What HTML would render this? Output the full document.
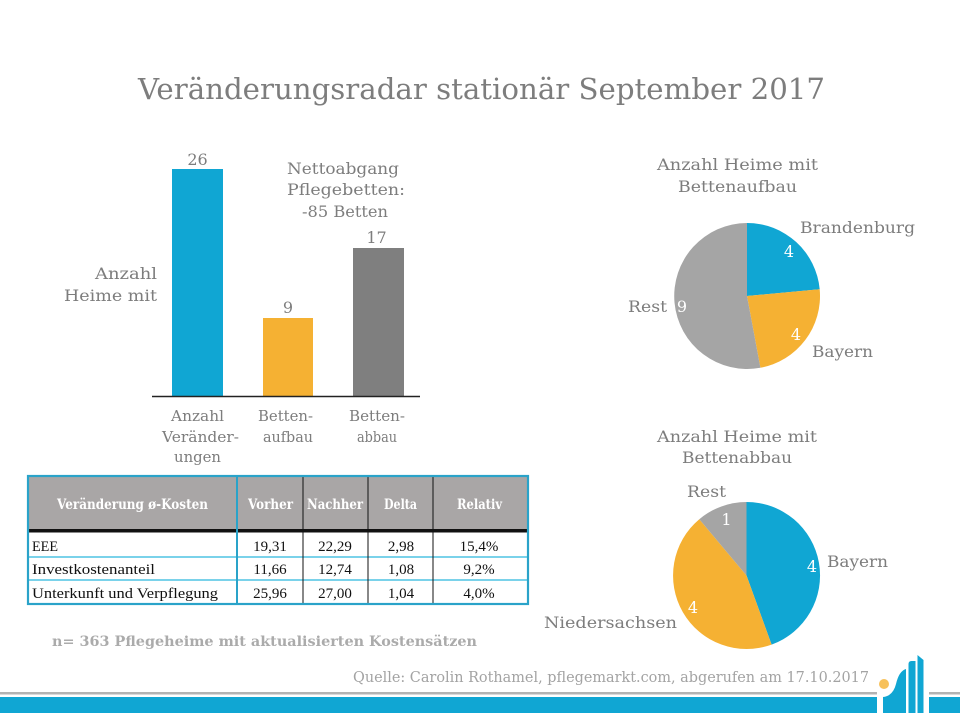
<!DOCTYPE html>
<html><head><meta charset="utf-8"><style>
html,body{margin:0;padding:0;background:#fff;}
svg{display:block;}
.s{font-family:"DejaVu Serif","Liberation Serif",serif;}
.t{font-family:"Liberation Serif","DejaVu Serif",serif;}
</style></head><body>
<svg width="960" height="720" viewBox="0 0 960 720" xmlns="http://www.w3.org/2000/svg">
<rect width="960" height="720" fill="#fff"/>
<!-- Title -->
<text class="s" x="138" y="99" font-size="29" fill="#7d7d7d" textLength="687" lengthAdjust="spacingAndGlyphs">Veränderungsradar stationär September 2017</text>

<!-- Bar chart -->
<rect x="172" y="169" width="51" height="227" fill="#10a6d3"/>
<rect x="263" y="318" width="50" height="78" fill="#f5b133"/>
<rect x="353" y="248" width="51" height="148" fill="#7f7f7f"/>
<line x1="152" y1="396.5" x2="420" y2="396.5" stroke="#222" stroke-width="1.5"/>
<g class="s" fill="#7d7d7d" font-size="16">
<text x="197.5" y="165" text-anchor="middle">26</text>
<text x="288" y="313" text-anchor="middle">9</text>
<text x="376.5" y="243" text-anchor="middle">17</text>
<text x="287" y="174" textLength="112" lengthAdjust="spacingAndGlyphs">Nettoabgang</text>
<text x="287" y="195" textLength="118" lengthAdjust="spacingAndGlyphs">Pflegebetten:</text>
<text x="302" y="217" textLength="86" lengthAdjust="spacingAndGlyphs">-85 Betten</text>
<text x="95" y="279" textLength="62" lengthAdjust="spacingAndGlyphs">Anzahl</text>
<text x="64" y="301" textLength="93" lengthAdjust="spacingAndGlyphs">Heime mit</text>
</g>
<g class="s" fill="#7d7d7d" font-size="15">
<text x="171" y="421" textLength="53" lengthAdjust="spacingAndGlyphs">Anzahl</text>
<text x="162" y="442" textLength="77" lengthAdjust="spacingAndGlyphs">Veränder-</text>
<text x="174" y="462" textLength="47" lengthAdjust="spacingAndGlyphs">ungen</text>
<text x="258" y="421" textLength="55" lengthAdjust="spacingAndGlyphs">Betten-</text>
<text x="263" y="442" textLength="50" lengthAdjust="spacingAndGlyphs">aufbau</text>
<text x="349" y="421" textLength="56" lengthAdjust="spacingAndGlyphs">Betten-</text>
<text x="357" y="442" textLength="40" lengthAdjust="spacingAndGlyphs">abbau</text>
</g>

<!-- Pie 1 -->
<g class="s" fill="#7d7d7d" font-size="16">
<text x="657" y="170" textLength="161" lengthAdjust="spacingAndGlyphs">Anzahl Heime mit</text>
<text x="678" y="192" textLength="119" lengthAdjust="spacingAndGlyphs">Bettenaufbau</text>
</g>
<path d="M747,296 L747,223 A73,73 0 0 1 819.7,289.3 Z" fill="#10a6d3"/>
<path d="M747,296 L819.7,289.3 A73,73 0 0 1 760.4,367.8 Z" fill="#f5b133"/>
<path d="M747,296 L760.4,367.8 A73,73 0 1 1 747,223 Z" fill="#a5a5a5"/>
<g class="s" font-size="16">
<text x="800" y="233" fill="#7d7d7d" textLength="115" lengthAdjust="spacingAndGlyphs">Brandenburg</text>
<text x="812" y="357" fill="#7d7d7d" textLength="61" lengthAdjust="spacingAndGlyphs">Bayern</text>
<text x="628" y="312" fill="#7d7d7d" textLength="39" lengthAdjust="spacingAndGlyphs">Rest</text>
<text x="789" y="257" fill="#fff" text-anchor="middle">4</text>
<text x="796" y="340" fill="#fff" text-anchor="middle">4</text>
<text x="682" y="312" fill="#fff" text-anchor="middle">9</text>
</g>

<!-- Pie 2 -->
<g class="s" fill="#7d7d7d" font-size="16">
<text x="657" y="442" textLength="160" lengthAdjust="spacingAndGlyphs">Anzahl Heime mit</text>
<text x="682" y="463" textLength="110" lengthAdjust="spacingAndGlyphs">Bettenabbau</text>
</g>
<path d="M746.5,575.5 L746.5,502 A73.5,73.5 0 0 1 771.6,644.6 Z" fill="#10a6d3"/>
<path d="M746.5,575.5 L771.6,644.6 A73.5,73.5 0 0 1 699.3,519.2 Z" fill="#f5b133"/>
<path d="M746.5,575.5 L699.3,519.2 A73.5,73.5 0 0 1 746.5,502 Z" fill="#a5a5a5"/>
<g class="s" font-size="16">
<text x="687" y="497" fill="#7d7d7d" textLength="39" lengthAdjust="spacingAndGlyphs">Rest</text>
<text x="827" y="567" fill="#7d7d7d" textLength="61" lengthAdjust="spacingAndGlyphs">Bayern</text>
<text x="544" y="628" fill="#7d7d7d" textLength="133" lengthAdjust="spacingAndGlyphs">Niedersachsen</text>
<text x="726.5" y="525" fill="#fff" text-anchor="middle">1</text>
<text x="812" y="572" fill="#fff" text-anchor="middle">4</text>
<text x="693" y="613" fill="#fff" text-anchor="middle">4</text>
</g>

<!-- Table -->
<rect x="28" y="476" width="500" height="55" fill="#a9a6a6"/>
<rect x="28" y="529" width="500" height="3.5" fill="#111"/>
<line x1="28" y1="557" x2="528" y2="557" stroke="#4fc3e4" stroke-width="1.5"/>
<line x1="28" y1="580" x2="528" y2="580" stroke="#4fc3e4" stroke-width="1.5"/>
<line x1="303" y1="476" x2="303" y2="604" stroke="#111" stroke-width="1"/>
<line x1="368" y1="476" x2="368" y2="604" stroke="#111" stroke-width="1"/>
<line x1="433" y1="476" x2="433" y2="604" stroke="#111" stroke-width="1"/>
<line x1="237" y1="476" x2="237" y2="604" stroke="#2aa3c9" stroke-width="2"/>
<rect x="28" y="476" width="500" height="128" fill="none" stroke="#2aa3c9" stroke-width="2.2"/>
<g class="s" fill="#fff" font-size="13.5" font-weight="bold">
<text x="57" y="509" textLength="151" lengthAdjust="spacingAndGlyphs">Veränderung ø-Kosten</text>
<text x="248" y="509" textLength="45" lengthAdjust="spacingAndGlyphs">Vorher</text>
<text x="307" y="509" textLength="56" lengthAdjust="spacingAndGlyphs">Nachher</text>
<text x="384" y="509" textLength="33" lengthAdjust="spacingAndGlyphs">Delta</text>
<text x="457" y="509" textLength="45" lengthAdjust="spacingAndGlyphs">Relativ</text>
</g>
<g class="t" fill="#111" font-size="15">
<text x="32" y="551" textLength="26" lengthAdjust="spacingAndGlyphs">EEE</text>
<text x="32" y="574" textLength="123" lengthAdjust="spacingAndGlyphs">Investkostenanteil</text>
<text x="32" y="598" textLength="186" lengthAdjust="spacingAndGlyphs">Unterkunft und Verpflegung</text>
<text x="270" y="551" text-anchor="middle">19,31</text>
<text x="335" y="551" text-anchor="middle">22,29</text>
<text x="401" y="551" text-anchor="middle">2,98</text>
<text x="479" y="551" text-anchor="middle">15,4%</text>
<text x="270" y="574" text-anchor="middle">11,66</text>
<text x="335" y="574" text-anchor="middle">12,74</text>
<text x="401" y="574" text-anchor="middle">1,08</text>
<text x="479" y="574" text-anchor="middle">9,2%</text>
<text x="270" y="598" text-anchor="middle">25,96</text>
<text x="335" y="598" text-anchor="middle">27,00</text>
<text x="401" y="598" text-anchor="middle">1,04</text>
<text x="479" y="598" text-anchor="middle">4,0%</text>
</g>
<text class="s" x="52" y="646" font-size="14" font-weight="bold" fill="#ababab" textLength="425" lengthAdjust="spacingAndGlyphs">n= 363 Pflegeheime mit aktualisierten  Kostensätzen</text>

<!-- Source -->
<text class="s" x="353" y="682" font-size="15" fill="#a3a3a3" textLength="516" lengthAdjust="spacingAndGlyphs">Quelle: Carolin Rothamel, pflegemarkt.com, abgerufen am 17.10.2017</text>

<!-- Footer bands -->
<rect x="0" y="692" width="877" height="2.5" fill="#b3b3b3"/>
<rect x="0" y="697" width="877" height="16" fill="#10a6d3"/>
<rect x="929" y="692" width="31" height="2.5" fill="#b3b3b3"/>
<rect x="929" y="697" width="31" height="16" fill="#10a6d3"/>
<!-- Logo -->
<path d="M883,713 L883,697 Q893,696 896,684 Q899,671 906,669 L906,713 Z" fill="#10a6d3"/>
<path d="M908.5,713 L908.5,664 Q908.5,661 911.5,661 L915.5,661 L915.5,713 Z" fill="#10a6d3"/>
<path d="M917.5,713 L917.5,655 L923.5,660 L923.5,713 Z" fill="#10a6d3"/>
<circle cx="884" cy="684" r="5" fill="#f7c15a"/>
</svg>
</body></html>
